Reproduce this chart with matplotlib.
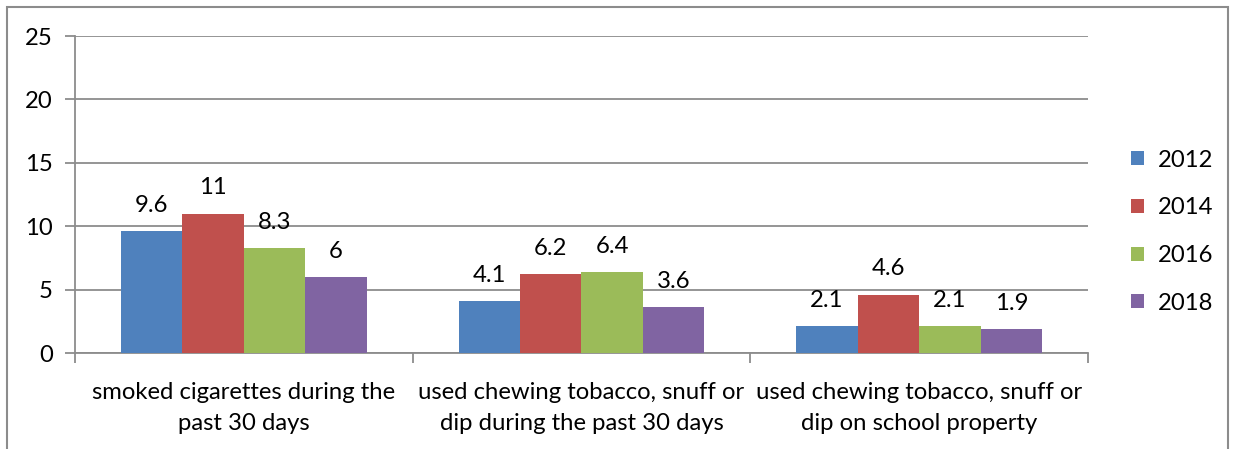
import matplotlib
matplotlib.use("Agg")
import matplotlib.pyplot as plt
import matplotlib.patches as patches
import numpy as np

plt.rcParams['font.family'] = ['Lato', 'DejaVu Sans']

# Datos
categorias = ["smoked cigarettes during the\npast 30 days",
              "used chewing tobacco, snuff or\ndip during the past 30 days",
              "used chewing tobacco, snuff or\ndip on school property"]
anios = ["2012", "2014", "2016", "2018"]
v2012 = [9.6, 4.1, 2.1]
v2014 = [11, 6.2, 4.6]
v2016 = [8.3, 6.4, 2.1]
v2018 = [6, 3.6, 1.9]
series = [v2012, v2014, v2016, v2018]
colores = ["#4f81bd", "#c0504d", "#9bbb59", "#8064a2"]
tam = 17.2

fig = plt.figure(figsize=(12.33, 4.49), dpi=100)
ax = fig.add_axes([0.0608, 0.2138, 0.8216, 0.706])

x = np.arange(len(categorias))
ancho = 0.182
for i, (vals, col) in enumerate(zip(series, colores)):
    pos = x + (i - 1.5) * ancho
    barras = ax.bar(pos, vals, ancho, color=col, label=anios[i], zorder=3)
    for b, v in zip(barras, vals):
        ax.text(b.get_x() + b.get_width() / 2, v + 1.2, f"{v:g}",
                ha="center", va="bottom", fontsize=tam)

ax.set_ylim(0, 25)
ax.set_xlim(-0.5, 2.5)
ax.set_yticks(np.arange(0, 26, 5))
ax.yaxis.grid(True, color="#8c8c8c", linewidth=1.3, zorder=0)
ax.tick_params(axis="y", length=7, width=1.3, color="#8c8c8c", labelsize=tam, pad=9)

ax.set_xticks(x)
ax.set_xticklabels(categorias, fontsize=tam, linespacing=1.58)
ax.set_xticks([-0.5, 0.5, 1.5, 2.5], minor=True)
ax.tick_params(axis="x", which="major", length=0, pad=21)
ax.tick_params(axis="x", which="minor", length=7, width=1.3, color="#8c8c8c")

for lado in ["top", "right"]:
    ax.spines[lado].set_visible(False)
for lado in ["left", "bottom"]:
    ax.spines[lado].set_color("#8c8c8c")
    ax.spines[lado].set_linewidth(1.3)

# Leyenda
leyenda = fig.legend(loc="center left", bbox_to_anchor=(0.9, 0.484), frameon=False,
                     fontsize=tam, handlelength=0.53, handleheight=0.53,
                     labelspacing=1.12, handletextpad=0.6)

# Borde de la figura
borde = patches.Rectangle((7 / 1233, -0.1), (1228 - 7) / 1233, 1.1 - 7 / 449,
                          transform=fig.transFigure, fill=False,
                          edgecolor="#8c8c8c", linewidth=1.5, clip_on=False)
fig.patches.append(borde)

plt.savefig("out.png", dpi=100)
